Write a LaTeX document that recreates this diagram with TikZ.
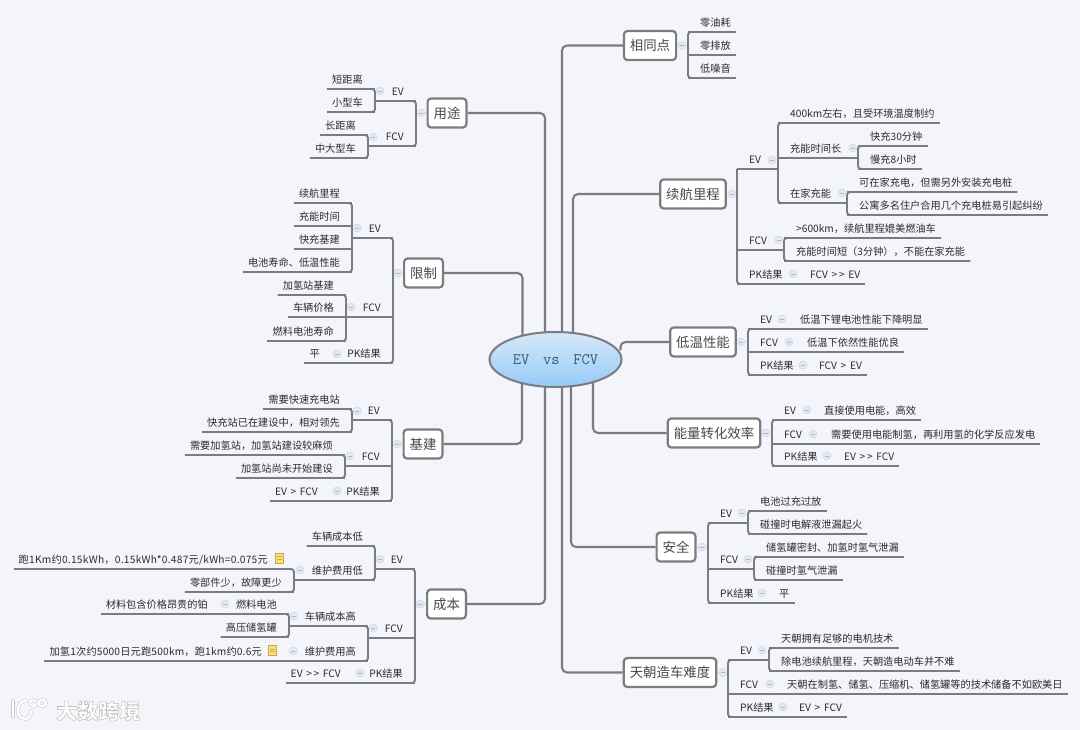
\documentclass[tikz,border=0pt]{standalone}
\usepackage{fontspec}
\setmainfont[WordSpace=1.6]{Noto Sans CJK SC}
\usepackage{tikz}
\usetikzlibrary{shapes.geometric,backgrounds}
\definecolor{canvasblue}{RGB}{243,245,250}
\definecolor{wiregray}{RGB}{124,124,128}
\definecolor{inkgray}{RGB}{44,44,44}
\definecolor{boxink}{RGB}{72,72,72}
\definecolor{foldblue}{RGB}{202,214,234}
\definecolor{foldfill}{RGB}{226,233,245}
\definecolor{rootink}{RGB}{58,88,118}
\definecolor{rootlight}{RGB}{214,233,248}
\definecolor{rootdark}{RGB}{150,202,246}
\definecolor{noteyellow}{RGB}{247,224,130}
\definecolor{notegold}{RGB}{206,168,60}

\begin{document}
\begin{tikzpicture}[x=1pt,y=-1pt,
        wire/.style={draw=wiregray,line width=1.9pt,rounded corners=3pt},
        trunk/.style={draw=wiregray,line width=2.1pt,rounded corners=5pt},
        foldline/.style={draw=foldblue,line width=1pt},
        rleaf/.style={anchor=south west,font=\fontsize{10.2}{12}\selectfont,text=inkgray,
                      inner ysep=3pt,inner xsep=5pt,text height=9pt,text depth=2.5pt,
                      execute at begin node=\hspace*{7pt},
                      append after command={(\tikzlastnode.south west) edge[wire] (\tikzlastnode.south east)}},
        lleaf/.style={anchor=south east,font=\fontsize{10.2}{12}\selectfont,text=inkgray,
                      inner ysep=3pt,inner xsep=5pt,text height=9pt,text depth=2.5pt,
                      execute at end node=\hspace*{7pt},
                      append after command={(\tikzlastnode.south west) edge[wire] (\tikzlastnode.south east)}},
        topic/.style={draw=wiregray,line width=2.2pt,rounded corners=3.5pt,fill=white,text=boxink,
                      font=\fontsize{13.4}{16}\selectfont,minimum height=29pt,inner xsep=6pt,inner ysep=0pt},
        fold/.style={circle,draw=foldblue,fill=foldfill,minimum size=8pt,inner sep=0pt,line width=.5pt,
                     path picture={\draw[foldblue!85!black,line width=.5pt]
                       ([xshift=-2pt]path picture bounding box.center) -- ([xshift=2pt]path picture bounding box.center);}},
        notebox/.style={draw=notegold,fill=noteyellow,minimum width=8pt,minimum height=10pt,inner sep=0pt,line width=.8pt,
                        path picture={\draw[notegold,line width=.5pt]
                          ([yshift=1.5pt]path picture bounding box.center) ++(-2.5pt,0) -- ++(5pt,0)
                          ([yshift=-1pt]path picture bounding box.center) ++(-2.5pt,0) -- ++(5pt,0);}},
        logo/.style={draw=gray!45,double=white,double distance=2.4pt,line width=.5pt,line cap=round}]
  \useasboundingbox (0,0) rectangle (1080,730);
  \node[ellipse,draw=wiregray,line width=2pt,top color=rootlight,bottom color=rootdark,minimum width=132pt,minimum height=55pt,
        inner sep=0pt,text=rootink,font=\fontsize{16}{18}\selectfont\ttfamily] (root) at (555.5,359.5) {EV\hspace{5.5pt} vs\hspace{5.5pt} FCV};

  % topics, right hand
  \node[topic] (same) at (650,45.5) {相同点};
  \node[topic] (range) at (693,194) {续航里程};
  \node[topic] (cold) at (703,342) {低温性能};
  \node[topic] (eff) at (714,433) {能量转化效率};
  \node[topic] (safe) at (676,547) {安全};
  \node[topic] (make) at (670,672.5) {天朝造车难度};
  % topics, left hand
  \node[topic] (use) at (447,113) {用途};
  \node[topic] (lim) at (423.5,273) {限制};
  \node[topic] (base) at (423,444) {基建};
  \node[topic] (cost) at (446.5,604) {成本};

  % same
  \node[rleaf] (same1) at (688,32) {零油耗};
  \node[rleaf] (same2) at (688,55) {零排放};
  \node[rleaf] (same3) at (688,78) {低噪音};
  \node[fold] (fsame) at (682,45.5) {};
  \draw[wire] (same1.south east) -- (same1.south west) -- (same3.south west) -- (same3.south east);

  % range
  \node[rleaf] (rev) at (737,169) {EV};
  \node[rleaf] (rfcv) at (737,250) {FCV};
  \node[rleaf] (rpk) at (737,284) {PK结果};
  \node[rleaf] (rpk1) at (798,284) {FCV >\,> EV};
  \node[rleaf] (rev1) at (778,123) {400km左右，且受环境温度制约};
  \node[rleaf] (rev2) at (778,158) {充能时间长};
  \node[rleaf] (rev3) at (778,203) {在家充能};
  \node[rleaf] (rev21) at (858,146) {快充30分钟};
  \node[rleaf] (rev22) at (858,169) {慢充8小时};
  \node[rleaf] (rev31) at (847,192) {可在家充电，但需另外安装充电桩};
  \node[rleaf] (rev32) at (847,215) {公寓多名住户合用几个充电桩易引起纠纷};
  \node[rleaf] (rfcv1) at (784,238) {>600km，续航里程媲美燃油车};
  \node[rleaf] (rfcv2) at (784,261) {充能时间短（3分钟），不能在家充能};
  \node[fold] (frange) at (732,194) {};
  \node[fold] (frev) at (772,160) {};
  \node[fold] (frev2) at (853,148) {};
  \node[fold] (frev3) at (842,193) {};
  \node[fold] (frfcv) at (779,240) {};
  \node[fold] (frpk) at (793,274) {};
  \draw[wire] (rev.south west) -- (rfcv.south west) -- (rpk.south west) -- (rpk.south east);
  \draw[wire] (rpk.south east) -- (rpk1.south west);
  \draw[wire] (rev.south west) -- (rev.south east -| rev1.south west);
  \draw[wire] (rev1.south east) -- (rev1.south west) -- (rev3.south west) -- (rev3.south east);
  \draw[wire] (rev2.south east) -- (rev2.south east -| rev21.south west);
  \draw[wire] (rev21.south east) -- (rev21.south west) -- (rev22.south west) -- (rev22.south east);
  \draw[wire] (rev3.south east) -- (rev3.south east -| rev31.south west);
  \draw[wire] (rev31.south east) -- (rev31.south west) -- (rev32.south west) -- (rev32.south east);
  \draw[wire] (rfcv.south west) -- (rfcv.south west -| rfcv1.south west);
  \draw[wire] (rfcv1.south east) -- (rfcv1.south west) -- (rfcv2.south west) -- (rfcv2.south east);

  % cold
  \node[rleaf] (cev) at (748,329) {EV};
  \node[rleaf] (cfcv) at (748,352) {FCV};
  \node[rleaf] (cpk) at (748,375) {PK结果};
  \node[rleaf] (cev1) at (788,329) {低温下锂电池性能下降明显};
  \node[rleaf] (cfcv1) at (795,352) {低温下依然性能优良};
  \node[rleaf] (cpk1) at (807,375) {FCV > EV};
  \node[fold] (fcold) at (741,342) {};
  \node[fold] (fcev) at (782,319) {};
  \node[fold] (fcfcv) at (789,342) {};
  \node[fold] (fcpk) at (803,365) {};
  \draw[wire] (cev.south east) -- (cev.south west) -- (cpk.south west) -- (cpk.south east);
  \draw[wire] (cev.south east) -- (cev1.south west);
  \draw[wire] (cfcv.south east) -- (cfcv1.south west);
  \draw[wire] (cpk.south east) -- (cpk1.south west);

  % eff
  \node[rleaf] (eev) at (772,420) {EV};
  \node[rleaf] (efcv) at (772,444) {FCV};
  \node[rleaf] (epk) at (772,466) {PK结果};
  \node[rleaf] (eev1) at (812,420) {直接使用电能，高效};
  \node[rleaf] (efcv1) at (819,444) {需要使用电能制氢，再利用氢的化学反应发电};
  \node[rleaf] (epk1) at (832,466) {EV >\,> FCV};
  \node[fold] (feff) at (766,433) {};
  \node[fold] (feev) at (807,410) {};
  \node[fold] (fefcv) at (813,434) {};
  \node[fold] (fepk) at (827,456) {};
  \draw[wire] (eev.south east) -- (eev.south west) -- (epk.south west) -- (epk.south east);
  \draw[wire] (eev.south east) -- (eev1.south west);
  \draw[wire] (efcv.south east) -- (efcv1.south west);
  \draw[wire] (epk.south east) -- (epk1.south west);

  % safe
  \node[rleaf] (sev) at (708,523) {EV};
  \node[rleaf] (sfcv) at (708,569) {FCV};
  \node[rleaf] (spk) at (708,603) {PK结果};
  \node[rleaf] (spk1) at (767,603) {平};
  \node[rleaf] (sev1) at (748,511) {电池过充过放};
  \node[rleaf] (sev2) at (748,534) {碰撞时电解液泄漏起火};
  \node[rleaf] (sfcv1) at (754,557) {储氢罐密封、加氢时氢气泄漏};
  \node[rleaf] (sfcv2) at (754,580) {碰撞时氢气泄漏};
  \node[fold] (fsafe) at (702,547) {};
  \node[fold] (fsev) at (742,513) {};
  \node[fold] (fsfcv) at (748,559) {};
  \node[fold] (fspk) at (762,593) {};
  \draw[wire] (sev.south east) -- (sev.south west) -- (spk.south west) -- (spk.south east);
  \draw[wire] (sev.south east) -- (sev.south east -| sev1.south west);
  \draw[wire] (sev1.south east) -- (sev1.south west) -- (sev2.south west) -- (sev2.south east);
  \draw[wire] (sfcv.south east) -- (sfcv.south east -| sfcv1.south west);
  \draw[wire] (sfcv1.south east) -- (sfcv1.south west) -- (sfcv2.south west) -- (sfcv2.south east);
  \draw[wire] (spk.south east) -- (spk1.south west);

  % make
  \node[rleaf] (mev) at (728,660) {EV};
  \node[rleaf] (mfcv) at (728,694) {FCV};
  \node[rleaf] (mpk) at (728,717) {PK结果};
  \node[rleaf] (mfcv1) at (775,694) {天朝在制氢、储氢、压缩机、储氢罐等的技术储备不如欧美日};
  \node[rleaf] (mpk1) at (787,717) {EV > FCV};
  \node[rleaf] (mev1) at (769,648) {天朝拥有足够的电机技术};
  \node[rleaf] (mev2) at (769,671) {除电池续航里程，天朝造电动车并不难};
  \node[fold] (fmake) at (723,672.5) {};
  \node[fold] (fmev) at (762,650) {};
  \node[fold] (fmfcv) at (770,684) {};
  \node[fold] (fmpk) at (783,707) {};
  \draw[wire] (mev.south east) -- (mev.south west) -- (mpk.south west) -- (mpk.south east);
  \draw[wire] (mev.south east) -- (mev.south east -| mev1.south west);
  \draw[wire] (mev1.south east) -- (mev1.south west) -- (mev2.south west) -- (mev2.south east);
  \draw[wire] (mfcv.south east) -- (mfcv1.south west);
  \draw[wire] (mpk.south east) -- (mpk1.south west);

  % use
  \node[lleaf] (uev) at (416,101) {EV};
  \node[lleaf] (ufcv) at (416,146) {FCV};
  \node[lleaf] (uev1) at (375,89) {短距离};
  \node[lleaf] (uev2) at (375,112) {小型车};
  \node[lleaf] (ufcv1) at (368,135) {长距离};
  \node[lleaf] (ufcv2) at (368,158) {中大型车};
  \node[fold] (fuse) at (421,113) {};
  \node[fold] (fuev) at (380,91) {};
  \node[fold] (fufcv) at (373,137) {};
  \draw[wire] (uev.south west) -- (uev.south east) -- (ufcv.south east) -- (ufcv.south west);
  \draw[wire] (uev.south west) -- (uev.south west -| uev1.south east);
  \draw[wire] (uev1.south west) -- (uev1.south east) -- (uev2.south east) -- (uev2.south west);
  \draw[wire] (ufcv.south west) -- (ufcv.south west -| ufcv1.south east);
  \draw[wire] (ufcv1.south west) -- (ufcv1.south east) -- (ufcv2.south east) -- (ufcv2.south west);

  % lim
  \node[lleaf] (lev) at (393,238) {EV};
  \node[lleaf] (lfcv) at (393,317) {FCV};
  \node[lleaf] (lpk) at (393,363) {PK结果};
  \node[lleaf] (lpk1) at (332,363) {平};
  \node[lleaf] (lev1) at (352,203) {续航里程};
  \node[lleaf] (lev2) at (352,226) {充能时间};
  \node[lleaf] (lev3) at (352,249) {快充基建};
  \node[lleaf] (lev4) at (352,272) {电池寿命、低温性能};
  \node[lleaf] (lfcv1) at (346,295) {加氢站基建};
  \node[lleaf] (lfcv2) at (346,317) {车辆价格};
  \node[lleaf] (lfcv3) at (346,341) {燃料电池寿命};
  \node[fold] (flim) at (398,273) {};
  \node[fold] (flev) at (357,228) {};
  \node[fold] (flfcv) at (351,307) {};
  \node[fold] (flpk) at (337,354) {};
  \draw[wire] (lev.south west) -- (lev.south east) -- (lpk.south east) -- (lpk.south west);
  \draw[wire] (lev.south west) -- (lev.south west -| lev1.south east);
  \draw[wire] (lev1.south west) -- (lev1.south east) -- (lev4.south east) -- (lev4.south west);
  \draw[wire] (lfcv.south west) -- (lfcv2.south east);
  \draw[wire] (lfcv1.south west) -- (lfcv1.south east) -- (lfcv3.south east) -- (lfcv3.south west);
  \draw[wire] (lpk.south west) -- (lpk1.south east);

  % base
  \node[lleaf] (bev) at (392,420) {EV};
  \node[lleaf] (bfcv) at (392,466) {FCV};
  \node[lleaf] (bpk) at (392,501) {PK结果};
  \node[lleaf] (bpk1) at (330,501) {EV > FCV};
  \node[lleaf] (bev1) at (352,409) {需要快速充电站};
  \node[lleaf] (bev2) at (352,432) {快充站已在建设中，相对领先};
  \node[lleaf] (bfcv1) at (345,455) {需要加氢站，加氢站建设较麻烦};
  \node[lleaf] (bfcv2) at (345,478) {加氢站尚未开始建设};
  \node[fold] (fbase) at (397,444) {};
  \node[fold] (fbev) at (357,411) {};
  \node[fold] (fbfcv) at (350,456) {};
  \node[fold] (fbpk) at (337,491) {};
  \draw[wire] (bev.south west) -- (bev.south east) -- (bpk.south east) -- (bpk.south west);
  \draw[wire] (bev.south west) -- (bev.south west -| bev1.south east);
  \draw[wire] (bev1.south west) -- (bev1.south east) -- (bev2.south east) -- (bev2.south west);
  \draw[wire] (bfcv.south west) -- (bfcv.south west -| bfcv1.south east);
  \draw[wire] (bfcv1.south west) -- (bfcv1.south east) -- (bfcv2.south east) -- (bfcv2.south west);
  \draw[wire] (bpk.south west) -- (bpk1.south east);

  % cost
  \node[lleaf] (kev) at (415,569) {EV};
  \node[lleaf] (kfcv) at (415,638) {FCV};
  \node[lleaf] (kpk) at (415,683) {PK结果};
  \node[lleaf] (kpk1) at (353,683) {EV >\,> FCV};
  \node[lleaf] (kev1) at (375,546) {车辆成本低};
  \node[lleaf] (kev2) at (375,580) {维护费用低};
  \node[lleaf] (kfcv1) at (368,626) {车辆成本高};
  \node[lleaf] (kfcv2) at (368,661) {维护费用高};
  \node[lleaf] (kev21) at (280,569) {\addfontfeature{LetterSpace=2.5}跑1Km约0.15kWh，0.15kWh*0.487元/kWh=0.075元};
  \node[notebox] (nev) at (279,558) {};
  \node[lleaf] (kev22) at (294,592) {零部件少，故障更少};
  \node[lleaf] (kf11) at (289,614) {燃料电池};
  \node[lleaf] (kf111) at (220,614) {材料包含价格昂贵的铂};
  \node[lleaf] (kf12) at (289,637) {高压储氢罐};
  \node[lleaf] (kf21) at (274,661) {\addfontfeature{LetterSpace=1.8}加氢1次约5000日元跑500km，跑1km约0.6元};
  \node[notebox] (nfcv) at (272,650.5) {};
  \node[fold] (fcost) at (420,604) {};
  \node[fold] (fkev) at (380,559) {};
  \node[fold] (fkfcv) at (373,628) {};
  \node[fold] (fkpk) at (360,673) {};
  \node[fold] (fkev2) at (300,570) {};
  \node[fold] (fkf1) at (294,616) {};
  \node[fold] (fkf11) at (225,604) {};
  \node[fold] (fkf2) at (293,651) {};
  \draw[wire] (kev.south west) -- (kev.south east) -- (kpk.south east) -- (kpk.south west);
  \draw[wire] (kev.south west) -- (kev.south west -| kev1.south east);
  \draw[wire] (kev1.south west) -- (kev1.south east) -- (kev2.south east) -- (kev2.south west);
  \draw[wire] (kev2.south west) -- (kev2.south west -| kev22.south east);
  \draw[wire] (kev21.south east) -- (kev21.south east -| kev22.south east) -- (kev22.south east) -- (kev22.south west);
  \draw[wire] (kfcv.south west) -- (kfcv.south west -| kfcv1.south east);
  \draw[wire] (kfcv1.south west) -- (kfcv1.south east) -- (kfcv2.south east) -- (kfcv2.south west);
  \draw[wire] (kfcv1.south west) -- (kfcv1.south west -| kf11.south east);
  \draw[wire] (kf11.south west) -- (kf11.south east) -- (kf12.south east) -- (kf12.south west);
  \draw[wire] (kf111.south east) -- (kf11.south west);
  \draw[wire] (kf21.south east) -- (kfcv2.south west);
  \draw[wire] (kpk.south west) -- (kpk1.south east);

  % root to topics, under the nodes
  \begin{scope}[on background layer]
    \fill[canvasblue] (0,0) rectangle (1080,730);
    \draw[trunk] ([xshift=6.5pt]root.center) |- (same.west);
    \draw[trunk] ([xshift=17.5pt]root.center) |- (range.west);
    \draw[trunk] ([xshift=65pt,yshift=9pt]root.center) |- (cold.west);
    \draw[trunk] ([xshift=37.5pt]root.center) |- (eff.west);
    \draw[trunk] ([xshift=15.5pt]root.center) |- (safe.west);
    \draw[trunk] ([xshift=6.5pt]root.center) |- (make.west);
    \draw[trunk] ([xshift=-10.5pt]root.center) |- (use.east);
    \draw[trunk] ([xshift=-33pt]root.center) |- (lim.east);
    \draw[trunk] ([xshift=-33.5pt]root.center) |- (base.east);
    \draw[trunk] ([xshift=-10.5pt]root.center) |- (cost.east);
    \draw[foldline] (same.east) -- (same.east -| same2.south west);
    \draw[foldline] (range.east) -- (range.east -| rev.south west);
    \draw[foldline] (cold.east) -- (cold.east -| cev.south west);
    \draw[foldline] (eff.east) -- (eff.east -| eev.south west);
    \draw[foldline] (safe.east) -- (safe.east -| sev.south west);
    \draw[foldline] (make.east) -- (make.east -| mev.south west);
    \draw[foldline] (use.west) -- (use.west -| uev.south east);
    \draw[foldline] (lim.west) -- (lim.west -| lev.south east);
    \draw[foldline] (base.west) -- (base.west -| bev.south east);
    \draw[foldline] (cost.west) -- (cost.west -| kev.south east);
  \end{scope}

  % logo and mark in the corner
  \draw[logo] (13,701) -- (13,717);
  \draw[logo] (26,700) .. controls (15,703) and (15,718) .. (25,719) .. controls (29,719) and (31,715) .. (31,711);
  \draw[logo] (33,703) circle (3);
  \draw[logo] (42,703) ellipse (4 and 3);
  \node[anchor=west,inner sep=0pt,text=white,font=\fontsize{21}{24}\selectfont\bfseries] (mark) at (56,711)
    {\special{pdf:code 2 Tr 0.5 w 0.74 G 1 g}大数跨境\special{pdf:code 0 Tr 0 G 0 g}};
\end{tikzpicture}
\end{document}
